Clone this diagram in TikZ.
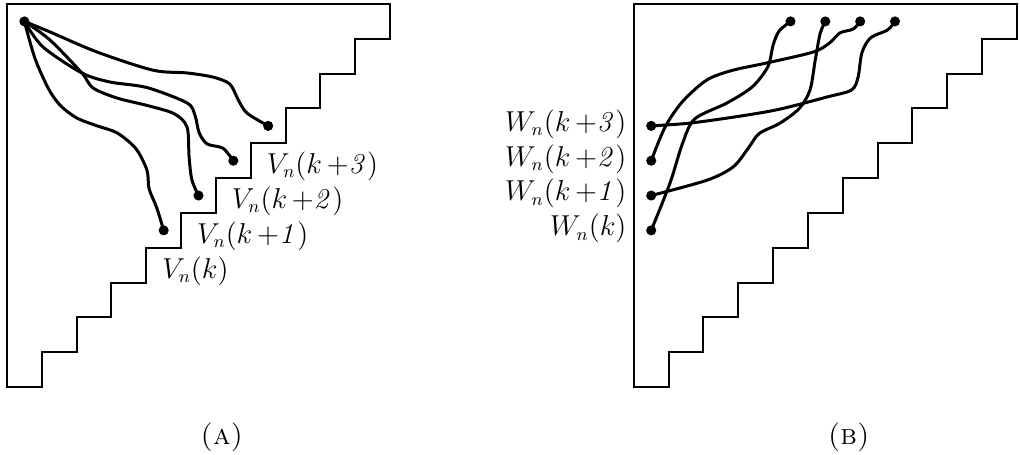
\documentclass[tikz,border=0pt]{standalone}
\usepackage{amsmath}

\begin{document}
\begin{tikzpicture}[x=17.41pt,y=17.41pt,font=\fontsize{13.5}{16}\selectfont,
  frame/.style={line width=1pt,line join=miter},
  wire/.style={line width=1.5pt,line cap=round,line join=round},
  lab/.style={inner sep=0pt}]
\def\dr{0.145}
\useasboundingbox (-0.2,0.115) rectangle (29.09,-12.95);
% the two staircase frames
\foreach \ox in {0,18}
  \draw[frame,shift={(\ox,0)}] (0,0) -- (11,0)
    \foreach \i in {11,...,1} {-- (\i,{\i-12}) -- ({\i-1},{\i-12})} -- cycle;
% (A): paths from one corner point
\coordinate (s) at (0.5,-0.5);
\foreach \k in {0,...,3} \coordinate (v\k) at ({4.5+\k},{-6.5+\k});
\draw[wire] plot[smooth] coordinates {(s) (1.23,-0.80) (2.59,-1.38) (4.19,-1.90)
  (5.17,-1.98) (5.92,-2.10) (6.40,-2.30) (6.64,-2.75) (6.89,-3.13) (v3)};
\draw[wire] plot[smooth] coordinates {(s) (1.03,-1.23) (2.15,-1.98) (2.96,-2.24)
  (4.02,-2.40) (5.17,-2.84) (5.40,-3.20) (5.52,-3.70) (5.75,-4.02) (6.20,-4.14) (v2)};
\draw[wire] plot[smooth] coordinates {(s) (1.23,-1.03) (2.15,-1.98) (2.47,-2.41)
  (3.16,-2.70) (4.05,-2.92) (4.80,-3.15) (5.17,-3.53) (5.23,-4.40) (5.31,-5.05) (v1)};
\draw[wire] plot[smooth] coordinates {(s) (0.80,-1.55) (1.18,-2.41) (1.52,-2.90)
  (2.00,-3.27) (2.59,-3.50) (3.16,-3.70) (3.70,-4.15) (4.02,-4.77) (4.08,-5.30)
  (4.30,-5.85) (v0)};
\foreach \p in {s,v0,v1,v2,v3} \fill (\p) circle (\dr);
\foreach \k/\t in {0/,1/\mkern3mu{+}\mathit{1},2/\mkern3mu{+}\mathit{2},3/\mkern3mu{+}\mathit{3}}
  \node[lab,anchor=north west] (lv\k) at ({4.45+\k},{-7.24+\k}) {$V_n(k\t)$};
% (B): paths from the left side to the top
\begin{scope}[shift={(18,0)}]
\foreach \k in {0,...,3} {
  \coordinate (w\k) at (0.5,{-6.5+\k});
  \coordinate (t\k) at ({4.5+\k},-0.5);
}
\draw[wire] plot[smooth] coordinates {(w0) (1.04,-5.14) (1.40,-4.00) (1.75,-3.30)
  (2.68,-2.84) (3.40,-2.38) (3.85,-1.80) (4.00,-1.18) (4.17,-0.78) (t0)};
\draw[wire] plot[smooth] coordinates {(w1) (2.10,-5.06) (2.85,-4.68) (3.28,-4.15)
  (3.60,-3.72) (4.20,-3.42) (4.75,-3.00) (5.06,-2.47) (5.21,-1.61) (5.35,-0.85) (t1)};
\draw[wire] plot[smooth] coordinates {(w2) (0.90,-3.53) (1.40,-2.80) (2.10,-2.18)
  (2.85,-1.90) (3.83,-1.69) (5.15,-1.38) (5.62,-1.12) (5.92,-0.83) (6.30,-0.72) (t2)};
\draw[wire] plot[smooth] coordinates {(w3) (1.61,-3.42) (3.05,-3.22) (4.19,-3.02)
  (5.55,-2.67) (6.25,-2.47) (6.44,-2.10) (6.55,-1.40) (6.80,-0.97) (7.28,-0.75) (t3)};
\foreach \k in {0,...,3} \fill (w\k) circle (\dr) (t\k) circle (\dr);
\foreach \k/\t in {0/,1/\mkern3mu{+}\mathit{1},2/\mkern3mu{+}\mathit{2},3/\mkern3mu{+}\mathit{3}}
  \node[lab,anchor=east] (lw\k) at (-0.2,{-6.45+\k}) {$W_n(k\t)$};
\end{scope}
% captions
\node (capA) at (6.17,-12.43) {\Large\textsc{(a)}};
\node (capB) at (24.17,-12.43) {\Large\textsc{(b)}};
\end{tikzpicture}
\end{document}
